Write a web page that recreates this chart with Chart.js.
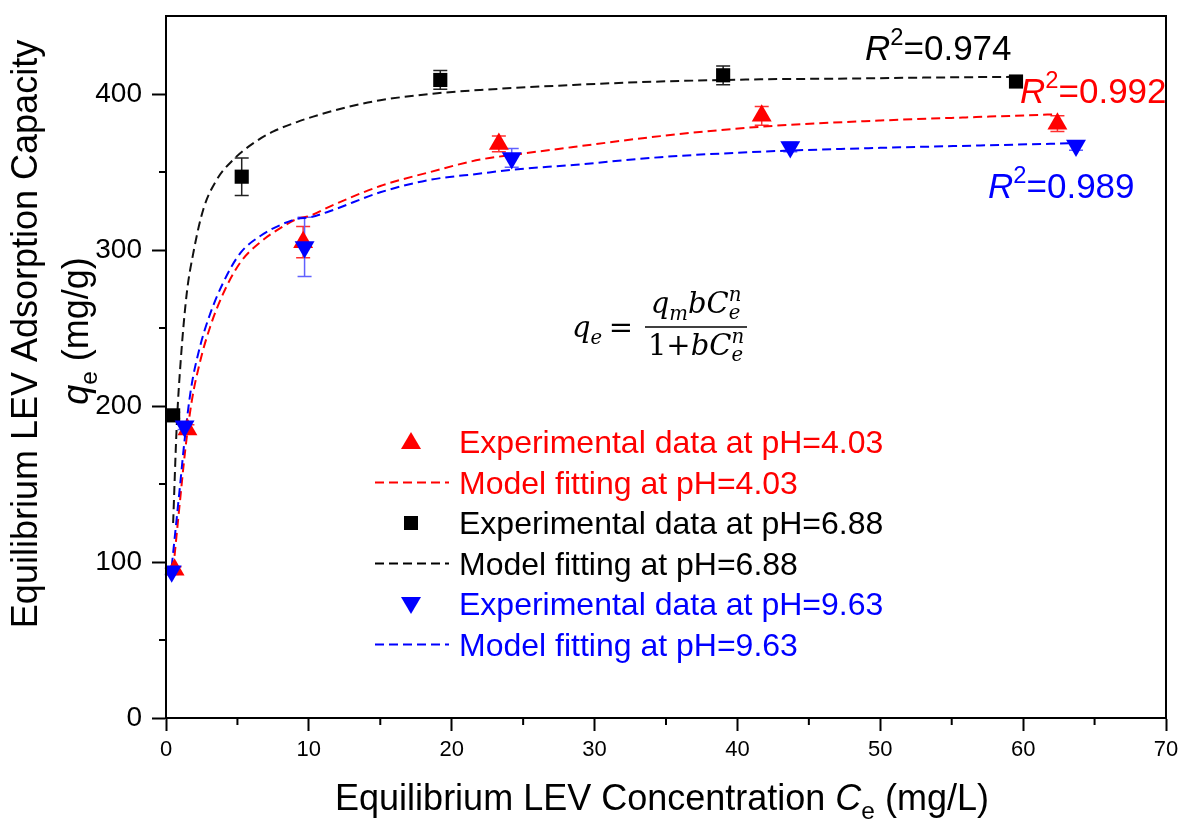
<!DOCTYPE html>
<html>
<head>
<meta charset="utf-8">
<script src="https://cdn.jsdelivr.net/npm/chart.js@4.4.1/dist/chart.umd.min.js"></script>
<style>
  html, body { margin: 0; padding: 0; background: #fff; }
</style>
</head>
<body>
<canvas id="myChart" width="1192" height="821"></canvas>
<script>
// Experimental data, pH = 4.03
var redX = [0.6, 1.5, 9.6, 23.3, 41.7, 62.4];
var redY = [95, 185, 305, 368, 386, 381];
var redErr = [2, 3, 10, 5, 6, 5];

// Experimental data, pH = 6.88
var blackX = [0.5, 5.3, 19.2, 39.0, 59.5];
var blackY = [194, 347, 409, 412, 408];
var blackErr = [2, 12, 6, 6, 2];

// Experimental data, pH = 9.63
var blueX = [0.4, 1.3, 9.7, 24.2, 43.7, 63.7];
var blueY = [94, 187, 302, 359, 366, 367];
var blueErr = [2, 2, 19, 6, 3, 3];

// Model fitting curves
var redFitX = [0.5, 1.0, 1.35, 1.8, 2.4, 3.1, 4.0, 5.2, 6.6, 8.0, 9.2, 10.1, 11.5, 15.0, 18.5, 22.0, 24.3, 28.5, 34.6, 41.6, 50, 56, 62.4];
var redFitY = [95, 141, 172, 203, 229, 251, 272, 292, 305, 314, 320, 322, 328, 341, 350, 358, 361, 366, 373, 379, 383, 385, 387];

var blackFitX = [0.5, 0.75, 1.03, 1.45, 1.91, 2.61, 3.55, 4.72, 6.12, 7.52, 9.16, 10.3, 12.66, 15.0, 19.0, 22.0, 28.5, 34.6, 41.6, 47.7, 53, 59.2];
var blackFitY = [125, 187, 229, 272, 298, 326, 345, 358, 368.5, 376, 382, 385.5, 391.5, 396, 400.5, 402.6, 405.8, 408, 409.4, 409.9, 410.5, 411];

var blueFitX = [0.4, 0.95, 1.3, 1.75, 2.35, 3.05, 4.0, 5.2, 6.6, 8.0, 9.2, 10.1, 11.5, 15.0, 18.5, 22.0, 24.3, 28.5, 34.6, 41.6, 50, 57, 63.7];
var blueFitY = [97, 146, 178, 211, 237, 258, 279, 298, 309, 316, 320, 321, 325, 337, 345, 349, 351.5, 354.5, 359.5, 363, 365.5, 367, 368.5];

var xTicks = [0, 10, 20, 30, 40, 50, 60, 70];
var yTicks = [0, 100, 200, 300, 400];

var legendLabels = [
    'Experimental data at pH=4.03',
    'Model fitting at pH=4.03',
    'Experimental data at pH=6.88',
    'Model fitting at pH=6.88',
    'Experimental data at pH=9.63',
    'Model fitting at pH=9.63'
];
var r2Labels = ['=0.974', '=0.992', '=0.989'];

var RED = '#ff0000', BLACK = '#000000', BLUE = '#0000ff';
var FAM = 'Liberation Sans';

function toXY(xs, ys) {
    return xs.map(function (x, i) { return { x: x, y: ys[i] }; });
}

// text with italic / sub / sup pieces
function runFont(r, size, fam) {
    var s = (r.pos || r.ss) ? size * 0.68 : size;
    return (r.it ? 'italic ' : '') + s + 'px "' + fam + '"';
}
function runsWidth(ctx, runs, size, fam) {
    var w = 0;
    runs.forEach(function (r) {
        ctx.font = runFont(r, size, fam);
        if (r.ss) {
            w += Math.max(ctx.measureText(r.ss[0]).width, ctx.measureText(r.ss[1]).width);
        } else {
            w += ctx.measureText(r.t).width;
        }
    });
    return w;
}
function drawRuns(ctx, runs, x, y, size, fam, color, align) {
    var w = runsWidth(ctx, runs, size, fam);
    var cx = align === 'center' ? x - w / 2 : x;
    ctx.fillStyle = color;
    ctx.textAlign = 'left';
    ctx.textBaseline = 'alphabetic';
    runs.forEach(function (r) {
        ctx.font = runFont(r, size, fam);
        if (r.ss) {
            ctx.fillText(r.ss[0], cx, y + size * 0.22);
            ctx.fillText(r.ss[1], cx, y - size * 0.42);
            cx += Math.max(ctx.measureText(r.ss[0]).width, ctx.measureText(r.ss[1]).width);
            return;
        }
        var dy = r.pos === 'sub' ? size * 0.24 : (r.pos === 'sup' ? -size * 0.42 : 0);
        ctx.fillText(r.t, cx, y + dy);
        cx += ctx.measureText(r.t).width;
    });
}

function drawMarker(ctx, kind, x, y, color) {
    ctx.fillStyle = color;
    ctx.beginPath();
    if (kind === 'rect') {
        ctx.rect(x - 7, y - 7, 14, 14);
    } else if (kind === 'up') {
        ctx.moveTo(x, y - 10); ctx.lineTo(x + 10, y + 7); ctx.lineTo(x - 10, y + 7);
    } else {
        ctx.moveTo(x, y + 10); ctx.lineTo(x + 10, y - 7); ctx.lineTo(x - 10, y - 7);
    }
    ctx.closePath();
    ctx.fill();
}

var decorPlugin = {
    id: 'decor',
    beforeDatasetsDraw: function (chart) {
        var ctx = chart.ctx, xs = chart.scales.x, ys = chart.scales.y;
        var sets = [
            { x: blackX, y: blackY, e: blackErr, c: '#222222' },
            { x: redX, y: redY, e: redErr, c: '#ff3030' },
            { x: blueX, y: blueY, e: blueErr, c: '#6060ff' }
        ];
        ctx.save();
        ctx.lineWidth = 1.5;
        sets.forEach(function (s) {
            ctx.strokeStyle = s.c;
            s.x.forEach(function (xv, i) {
                var px = xs.getPixelForValue(xv);
                var top = ys.getPixelForValue(s.y[i] + s.e[i]);
                var bot = ys.getPixelForValue(s.y[i] - s.e[i]);
                ctx.beginPath();
                ctx.moveTo(px, top); ctx.lineTo(px, bot);
                ctx.moveTo(px - 7, top); ctx.lineTo(px + 7, top);
                ctx.moveTo(px - 7, bot); ctx.lineTo(px + 7, bot);
                ctx.stroke();
            });
        });
        ctx.restore();
    },
    afterDraw: function (chart) {
        var ctx = chart.ctx, a = chart.chartArea;
        var xs = chart.scales.x, ys = chart.scales.y;
        ctx.save();
        // frame
        ctx.strokeStyle = '#000';
        ctx.lineWidth = 2;
        ctx.strokeRect(a.left, a.top, a.right - a.left, a.bottom - a.top);
        // minor ticks
        ctx.beginPath();
        for (var v = 5; v < 70; v += 10) {
            var px = xs.getPixelForValue(v);
            ctx.moveTo(px, a.bottom); ctx.lineTo(px, a.bottom + 7);
        }
        for (var w = 50; w < 450; w += 100) {
            var py = ys.getPixelForValue(w);
            ctx.moveTo(a.left, py); ctx.lineTo(a.left - 7, py);
        }
        ctx.stroke();

        // legend
        var colors = [RED, RED, BLACK, BLACK, BLUE, BLUE];
        var kinds = ['up', 'line', 'rect', 'line', 'down', 'line'];
        for (var i = 0; i < legendLabels.length; i++) {
            var base = 453 + i * 40.5;
            var mid = base - 11;
            if (kinds[i] === 'line') {
                ctx.strokeStyle = colors[i];
                ctx.lineWidth = 2;
                ctx.setLineDash([9, 5]);
                ctx.beginPath();
                ctx.moveTo(375, mid); ctx.lineTo(449, mid);
                ctx.stroke();
                ctx.setLineDash([]);
            } else {
                drawMarker(ctx, kinds[i], 411, mid, colors[i]);
            }
            ctx.font = '32px "' + FAM + '"';
            ctx.fillStyle = colors[i];
            ctx.textAlign = 'left';
            ctx.textBaseline = 'alphabetic';
            ctx.fillText(legendLabels[i], 459, base);
        }

        // R^2 labels
        var r2Pos = [[865, 60, BLACK], [1020, 103, RED], [988, 198, BLUE]];
        r2Pos.forEach(function (p, k) {
            drawRuns(ctx, [{ t: 'R', it: true }, { t: '2', pos: 'sup' }, { t: r2Labels[k] }],
                p[0], p[1], 35, FAM, p[2], 'left');
        });

        // formula
        var SER = 'DejaVu Serif';
        drawRuns(ctx, [{ t: 'q', it: true }, { t: 'e', it: true, pos: 'sub' }], 572, 337, 29, SER, '#000', 'left');
        drawRuns(ctx, [{ t: '=' }], 621, 337, 29, SER, '#000', 'center');
        drawRuns(ctx, [{ t: 'q', it: true }, { t: 'm', it: true, pos: 'sub' }, { t: 'b', it: true },
            { t: 'C', it: true }, { ss: ['e', 'n'], it: true }], 696, 313, 29, SER, '#000', 'center');
        drawRuns(ctx, [{ t: '1+' }, { t: 'b', it: true }, { t: 'C', it: true }, { ss: ['e', 'n'], it: true }],
            696, 355, 29, SER, '#000', 'center');
        ctx.strokeStyle = '#000';
        ctx.lineWidth = 1.5;
        ctx.beginPath();
        ctx.moveTo(645, 327); ctx.lineTo(747, 327);
        ctx.stroke();

        // axis titles
        drawRuns(ctx, [{ t: 'Equilibrium LEV Concentration ' }, { t: 'C', it: true }, { t: 'e', pos: 'sub' },
            { t: ' (mg/L)' }], 662, 810, 36, FAM, '#000', 'center');
        ctx.save();
        ctx.translate(37, 334);
        ctx.rotate(-Math.PI / 2);
        drawRuns(ctx, [{ t: 'Equilibrium LEV Adsorption Capacity' }], 0, 0, 36, FAM, '#000', 'center');
        ctx.restore();
        ctx.save();
        ctx.translate(88, 331);
        ctx.rotate(-Math.PI / 2);
        drawRuns(ctx, [{ t: 'q', it: true }, { t: 'e', pos: 'sub' }, { t: ' (mg/g)' }], 0, 0, 36, FAM, '#000', 'center');
        ctx.restore();

        ctx.restore();
    }
};

var ctx = document.getElementById('myChart');
var myChart = new Chart(ctx, {
    type: 'scatter',
    data: {
        datasets: [
            { label: legendLabels[4], data: toXY(blueX, blueY), pointStyle: 'triangle', rotation: 180,
              pointRadius: 11.5, pointHoverRadius: 11.5, backgroundColor: BLUE, borderWidth: 0 },
            { label: legendLabels[0], data: toXY(redX, redY), pointStyle: 'triangle',
              pointRadius: 11.5, pointHoverRadius: 11.5, backgroundColor: RED, borderWidth: 0 },
            { label: legendLabels[2], data: toXY(blackX, blackY), pointStyle: 'rect',
              pointRadius: 10, pointHoverRadius: 10, backgroundColor: BLACK, borderWidth: 0 },
            { label: legendLabels[5], data: toXY(blueFitX, blueFitY), showLine: true, pointRadius: 0,
              borderColor: BLUE, borderWidth: 2, borderDash: [9, 5], cubicInterpolationMode: 'monotone' },
            { label: legendLabels[1], data: toXY(redFitX, redFitY), showLine: true, pointRadius: 0,
              borderColor: RED, borderWidth: 2, borderDash: [9, 5], cubicInterpolationMode: 'monotone' },
            { label: legendLabels[3], data: toXY(blackFitX, blackFitY), showLine: true, pointRadius: 0,
              borderColor: '#111111', borderWidth: 2, borderDash: [9, 5], cubicInterpolationMode: 'monotone' }
        ]
    },
    options: {
        responsive: false,
        animation: false,
        devicePixelRatio: 1,
        layout: { padding: { top: 16, right: 26, left: 0, bottom: 0 } },
        plugins: {
            legend: { display: false },
            tooltip: { enabled: false }
        },
        scales: {
            x: {
                type: 'linear',
                min: 0,
                max: 70,
                afterFit: function (scale) {
                    scale.height = 103;
                    scale.paddingLeft = 0;
                    scale.paddingRight = 0;
                },
                afterBuildTicks: function (scale) {
                    scale.ticks = xTicks.map(function (v) { return { value: v }; });
                },
                ticks: {
                    color: '#000',
                    font: { family: FAM, size: 22 },
                    padding: 6,
                    maxRotation: 0,
                    autoSkip: false
                },
                grid: { drawOnChartArea: false, drawTicks: true, tickLength: 13, tickWidth: 2, tickColor: '#000' },
                border: { display: true, color: '#000', width: 2 }
            },
            y: {
                type: 'linear',
                min: 0,
                max: 450,
                afterFit: function (scale) {
                    scale.width = 166;
                    scale.paddingTop = 0;
                    scale.paddingBottom = 0;
                },
                afterBuildTicks: function (scale) {
                    scale.ticks = yTicks.map(function (v) { return { value: v }; });
                },
                ticks: {
                    color: '#000',
                    font: { family: FAM, size: 28 },
                    padding: 10,
                    autoSkip: false
                },
                grid: { drawOnChartArea: false, drawTicks: true, tickLength: 14, tickWidth: 2, tickColor: '#000' },
                border: { display: true, color: '#000', width: 2 }
            }
        }
    },
    plugins: [decorPlugin]
});
</script>
</body>
</html>
